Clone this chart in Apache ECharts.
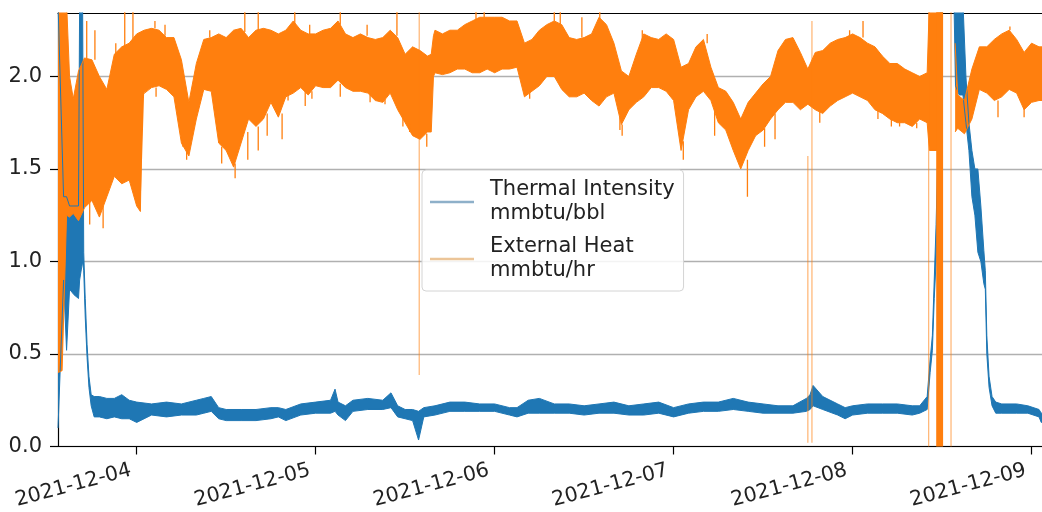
<!DOCTYPE html>
<html>
<head>
<meta charset="utf-8">
<script src="https://cdn.jsdelivr.net/npm/echarts@6/dist/echarts.min.js"></script>
<style>
  html, body { margin: 0; padding: 0; background: #ffffff; }
  #chart { width: 1042px; height: 512px; }
</style>
</head>
<body>
<div id="chart"></div>
<script>
// Hour offsets in the arrays below count from 2021-12-03 12:00 (local time).
const BASE = new Date(2021, 11, 3, 12, 0, 0).getTime();
const HOUR = 3600 * 1000;
const DAY = 24 * HOUR;

const NAME_INTENSITY = 'Thermal Intensity\nmmbtu/bbl';
const NAME_HEAT = 'External Heat\nmmbtu/hr';

// Visible time window (hours)
const viewStart = 1.45;
const viewEnd = 133.4;

// External heat: lower and upper edge of the noisy trace (null = no reading)
const heatHours = [
  1.45, 2.0, 2.6, 3.0, 3.5, 4.2, 5, 6, 7, 8, 9, 10, 11, 12, 12.5, 12.75,
  13, 14, 15, 16, 17, 18, 19, 20, 21, 22, 23, 24, 25, 26, 27, 28, 29, 30,
  31, 32, 33, 34, 35, 36, 37, 38, 39, 40, 41, 42, 43, 44, 45, 46, 47, 48,
  49, 50, 51, 51.5, 51.8, 52, 53, 54, 55, 56, 57, 58, 59, 60, 61, 62, 63,
  64, 65, 66, 67, 68, 69, 70, 71, 72, 73, 74, 75, 76, 77, 78, 79, 80, 81,
  82, 83, 84, 85, 86, 87, 88, 89, 90, 91, 92, 93, 94, 95, 96, 97, 98, 99,
  100, 101, 102, 103, 104, 105, 106, 107, 108, 109, 110, 111, 112, 113,
  114, 115, 116, 117, 118, 118.3, 120.1, 120.25, 121.75, 122.1, 123, 124,
  125, 126, 127, 128, 129, 130, 131, 132, 133, 134, 135.6
];
const heatLow = [
  0.40, 0.41, 1.25, 1.24, 1.26, 1.22, 1.29, 1.33, 1.24, 1.35, 1.46, 1.42, 1.44, 1.30, 1.27, 1.90,
  1.91, 1.94, 1.95, 1.93, 1.89, 1.64, 1.57, 1.77, 1.93, 1.92, 1.64, 1.60, 1.51, 1.64, 1.77, 1.73, 1.77, 1.86,
  1.78, 1.89, 1.91, 1.94, 1.90, 1.95, 1.94, 1.94, 1.98, 1.94, 1.92, 1.92, 1.91, 1.87, 1.86, 1.91, 1.82, 1.75,
  1.68, 1.66, 1.70, 1.70, 2.00, 2.02, 2.01, 2.02, 2.04, 2.04, 2.02, 2.02, 2.04, 2.02, 2.04, 2.04, 2.05,
  1.89, 1.92, 1.95, 2.00, 2.00, 1.93, 1.89, 1.89, 1.91, 1.87, 1.84, 1.89, 1.91, 1.74, 1.82, 1.86, 1.89, 1.94,
  1.94, 1.92, 1.87, 1.60, 1.82, 1.89, 1.92, 1.87, 1.75, 1.71, 1.60, 1.50, 1.60, 1.68, 1.71, 1.77, 1.82, 1.86,
  1.86, 1.82, 1.85, 1.82, 1.80, 1.84, 1.87, 1.89, 1.91, 1.89, 1.87, 1.82, 1.80, 1.77,
  1.75, 1.75, 1.73, 1.77, 1.75, 1.60, 1.60, null, 1.70, 1.72, 1.69, 1.77,
  1.93, 1.91, 1.87, 1.89, 1.93, 1.91, 1.82, 1.86, 1.87, 1.87, 1.87
];
const heatHigh = [
  2.40, 2.40, 2.40, 2.00, 1.88, 2.03, 2.10, 2.09, 2.00, 1.93, 2.12, 2.16, 2.18, 2.23, 2.24, 2.25,
  2.25, 2.26, 2.25, 2.21, 2.21, 2.09, 1.86, 2.07, 2.20, 2.21, 2.23, 2.21, 2.25, 2.26, 2.21, 2.25, 2.26, 2.25,
  2.23, 2.25, 2.30, 2.25, 2.23, 2.23, 2.25, 2.26, 2.30, 2.23, 2.21, 2.23, 2.21, 2.20, 2.21, 2.25, 2.21, 2.12,
  2.16, 2.14, 2.11, 2.12, 2.22, 2.25, 2.23, 2.25, 2.25, 2.28, 2.30, 2.32, 2.32, 2.32, 2.32, 2.30, 2.30,
  2.18, 2.20, 2.25, 2.28, 2.30, 2.28, 2.21, 2.20, 2.21, 2.23, 2.32, 2.28, 2.18, 2.03, 2.00, 2.12, 2.23, 2.21,
  2.20, 2.23, 2.20, 2.05, 2.07, 2.16, 2.20, 2.05, 1.94, 1.92, 1.86, 1.77, 1.86, 1.91, 1.96, 2.00, 2.14, 2.20,
  2.21, 2.13, 2.04, 2.13, 2.14, 2.18, 2.20, 2.21, 2.23, 2.21, 2.18, 2.16, 2.11, 2.07,
  2.07, 2.04, 2.02, 2.00, 2.02, 2.40, 2.40, null, 2.18, 1.90, 1.87, 2.04,
  2.16, 2.16, 2.20, 2.23, 2.25, 2.20, 2.13, 2.18, 2.16, 2.16, 2.16
];

// External heat: short excursions beyond the trace edges [hour, from, to]
const heatSpikes = [
  // upward
  [5.3, 2.10, 2.30], [6.4, 2.09, 2.25], [9.2, 2.12, 2.18], [10.4, 2.16, 2.40],
  [11.5, 2.18, 2.40], [14.45, 2.26, 2.30], [15.8, 2.22, 2.28], [21.8, 2.21, 2.25],
  [26.5, 2.24, 2.40], [28.3, 2.25, 2.40], [33.2, 2.28, 2.40], [35.2, 2.23, 2.28],
  [39.3, 2.28, 2.40], [42.9, 2.22, 2.28], [46.9, 2.22, 2.40], [57.5, 2.30, 2.40],
  [58.6, 2.32, 2.40], [68.0, 2.30, 2.40], [68.8, 2.28, 2.40], [71.7, 2.21, 2.32],
  [74.1, 2.30, 2.40], [79.8, 2.20, 2.25], [88.5, 2.18, 2.23], [107.6, 2.21, 2.25],
  [109.4, 2.21, 2.30], [129.1, 2.25, 2.27],
  // downward
  [5.7, 1.33, 1.20], [7.5, 1.30, 1.18], [12.7, 1.90, 1.82], [14.6, 1.94, 1.89],
  [18.2, 1.66, 1.62], [18.7, 1.60, 1.55], [23.4, 1.62, 1.53], [25.2, 1.53, 1.45],
  [26.9, 1.70, 1.55], [28.3, 1.73, 1.60], [29.5, 1.80, 1.68], [31.5, 1.80, 1.66],
  [32.3, 1.90, 1.87], [34.6, 1.92, 1.84], [35.5, 1.92, 1.88], [39.3, 1.96, 1.89],
  [43.3, 1.90, 1.86], [45.3, 1.88, 1.85], [47.7, 1.80, 1.73], [48.6, 1.74, 1.70],
  [50.9, 1.69, 1.62], [64.7, 1.92, 1.88], [76.8, 1.78, 1.71], [77.1, 1.74, 1.68],
  [85.3, 1.65, 1.55], [89.5, 1.82, 1.68], [93.9, 1.55, 1.35], [96.2, 1.72, 1.62],
  [97.6, 1.80, 1.66], [103.6, 1.81, 1.75], [111.4, 1.82, 1.77], [113.2, 1.77, 1.73],
  [114.3, 1.75, 1.73], [116.6, 1.75, 1.72], [127.5, 1.87, 1.78], [131.0, 1.84, 1.78],
  // full-range swings during the shutdown
  [119.3, 0.00, 2.40], [119.45, 0.00, 2.40], [119.6, 0.00, 2.40],
  [119.75, 0.00, 2.40], [119.9, 0.00, 2.40], [120.05, 0.00, 2.40]
];
// External heat: single-sample drops towards zero [hour, from, to]
const heatDrops = [
  [49.89, 0.386, 2.40], [102.0, 0.02, 1.57], [102.55, 0.02, 2.30],
  [118.2, 0.00, 2.40], [121.2, 0.00, 2.40]
];

// Thermal intensity: lower and upper edge of the trace
const intensityHours = [
  1.45, 2.2, 2.6, 3.0, 3.6, 4.2, 4.35, 4.75, 4.9, 5.1, 5.35, 5.6, 5.9, 6.3,
  7, 8, 9, 10, 11, 12, 14, 16, 18, 20, 21, 22, 23, 24, 26, 28, 30, 31, 32,
  34, 36, 38, 38.6, 39, 40, 41, 43, 45, 46.1, 47, 48, 49, 49.8, 50.5, 52,
  54, 56, 58, 60, 62, 63, 64.5, 66, 68, 70, 72, 74, 76, 78, 80, 82, 84, 86,
  88, 90, 92, 94, 96, 98, 100, 101.8, 102.3, 102.7, 104, 106, 107, 108, 110,
  112, 114, 116, 117, 118, 118.4, 118.7, 118.95, 119.2, 119.5, 119.8, 120.1,
  121.6, 121.8, 122.3, 122.8, 123.2, 123.6, 124.0, 124.4, 124.8, 125.2,
  125.6, 125.8, 126.0, 126.3, 126.7, 127.2, 128, 130, 131.5, 133, 133.3, 135.6
];
const intensityLow = [
  0.10, 0.90, 0.52, 0.85, 0.82, 0.80, 0.90, 1.00, 0.95, 0.70, 0.48, 0.32, 0.22, 0.16,
  0.16, 0.15, 0.16, 0.15, 0.15, 0.13, 0.17, 0.16, 0.17, 0.17, 0.18, 0.19, 0.15, 0.14, 0.14, 0.14, 0.15, 0.16, 0.14,
  0.17, 0.18, 0.18, 0.19, 0.17, 0.14, 0.19, 0.20, 0.20, 0.21, 0.16, 0.15, 0.14, 0.035, 0.16, 0.17,
  0.19, 0.19, 0.19, 0.19, 0.17, 0.16, 0.18, 0.18, 0.18, 0.18, 0.17, 0.18, 0.18, 0.17, 0.17, 0.18, 0.16, 0.18,
  0.19, 0.19, 0.20, 0.19, 0.18, 0.18, 0.18, 0.19, 0.20, 0.22, 0.20, 0.17, 0.15, 0.17, 0.18,
  0.18, 0.18, 0.17, 0.18, 0.20, 0.40, 0.52, 0.80, 1.00, 1.40, 2.00, 2.40,
  2.40, 1.95, 1.90, 1.90, 1.75, 1.60, 1.35, 1.25, 1.05, 1.00,
  0.88, 0.85, 0.50, 0.32, 0.22, 0.18, 0.18, 0.18, 0.18, 0.16, 0.13, 0.14
];
const intensityHigh = [
  2.40, 1.35, 1.35, 1.30, 1.30, 1.30, 2.40, 2.40, 1.05, 0.80, 0.55, 0.38, 0.28, 0.27,
  0.27, 0.26, 0.26, 0.28, 0.25, 0.24, 0.23, 0.24, 0.23, 0.25, 0.26, 0.27, 0.21, 0.20, 0.20, 0.20, 0.21, 0.21, 0.20,
  0.23, 0.24, 0.25, 0.31, 0.24, 0.22, 0.25, 0.26, 0.25, 0.29, 0.22, 0.20, 0.20, 0.19, 0.21, 0.22,
  0.24, 0.24, 0.23, 0.23, 0.21, 0.21, 0.25, 0.26, 0.23, 0.23, 0.22, 0.23, 0.24, 0.22, 0.23, 0.24, 0.21, 0.23,
  0.24, 0.24, 0.26, 0.24, 0.23, 0.22, 0.22, 0.26, 0.28, 0.33, 0.27, 0.23, 0.21, 0.22, 0.23,
  0.23, 0.23, 0.22, 0.22, 0.27, 0.47, 0.60, 0.90, 1.20, 1.70, 2.40, 2.40,
  2.40, 2.40, 2.40, 2.40, 2.00, 1.75, 1.60, 1.50, 1.50, 1.30,
  1.06, 0.95, 0.60, 0.38, 0.27, 0.24, 0.23, 0.23, 0.22, 0.20, 0.18, 0.18
];

// Axis ticks
const yTicks = [0.0, 0.5, 1.0, 1.5, 2.0];
const dayTicks = ['2021-12-04', '2021-12-05', '2021-12-06', '2021-12-07', '2021-12-08', '2021-12-09'];

const BLUE = '#1f77b4';
const ORANGE = '#ff7f0e';
const FONT = 'DejaVu Sans';

const toTime = h => BASE + h * HOUR;
const pad2 = n => String(n).padStart(2, '0');
const dayLabel = v => {
  const d = new Date(v);
  return d.getFullYear() + '-' + pad2(d.getMonth() + 1) + '-' + pad2(d.getDate());
};
const isMidnight = v => {
  const d = new Date(v);
  return d.getHours() === 0 && d.getMinutes() === 0 && d.getSeconds() === 0;
};

// A noisy trace drawn as a filled strip between its lower and upper edge
function traceStrip(name, hours, low, high, color) {
  const base = hours.map((h, i) => [toTime(h), low[i] == null ? '-' : low[i]]);
  const span = hours.map((h, i) => [toTime(h),
    low[i] == null ? '-' : +(high[i] - low[i]).toFixed(3)]);
  const common = {
    type: 'line', stack: name, symbol: 'none', showSymbol: false,
    connectNulls: false, silent: true, animation: false, clip: true
  };
  return [
    Object.assign({}, common, {
      name: name + ' low', data: base,
      lineStyle: { color: color, width: 1 }, itemStyle: { color: color }
    }),
    Object.assign({}, common, {
      name: name, data: span,
      lineStyle: { color: color, width: 1 }, itemStyle: { color: color },
      areaStyle: { color: color, opacity: 1 }
    })
  ];
}

// Vertical strokes for individual samples that leave the strip
function strokes(name, list, color, width, opacity) {
  const data = [];
  list.forEach(([h, a, b]) => {
    data.push([toTime(h), a], [toTime(h), b], [toTime(h), '-']);
  });
  return {
    name: name, type: 'line', data: data, symbol: 'none', showSymbol: false,
    connectNulls: false, silent: true, animation: false, clip: true,
    lineStyle: { color: color, width: width, opacity: opacity },
    itemStyle: { color: color }
  };
}

const series = [].concat(
  traceStrip(NAME_INTENSITY, intensityHours, intensityLow, intensityHigh, BLUE),
  traceStrip(NAME_HEAT, heatHours, heatLow, heatHigh, ORANGE),
  [strokes('heat spikes', heatSpikes, ORANGE, 1.3, 1),
   strokes('heat drops', heatDrops, ORANGE, 1.3, 0.55)]
);

const axisBlack = { color: '#000000', width: 1.2 };

const chart = echarts.init(document.getElementById('chart'), null, { renderer: 'canvas' });
chart.setOption({
  animation: false,
  backgroundColor: '#ffffff',
  grid: { left: 58, top: 13, right: 0, height: 433.5, show: false },
  legend: {
    data: [
      { name: NAME_INTENSITY, icon: 'rect', itemStyle: { color: '#8eb0c9' } },
      { name: NAME_HEAT, icon: 'rect', itemStyle: { color: '#ecc598' } }
    ],
    orient: 'vertical', left: 422, top: 170,
    itemWidth: 44, itemHeight: 2.5, itemGap: 9,
    padding: [8, 9, 8, 8],
    backgroundColor: 'rgba(255,255,255,0.85)',
    borderColor: '#d4d4d4', borderWidth: 1, borderRadius: 4,
    selectedMode: false,
    textStyle: {
      fontFamily: FONT, fontSize: 21, lineHeight: 24, color: '#222222',
      padding: [0, 0, 0, 11]
    }
  },
  xAxis: [
    {
      type: 'time',
      min: toTime(viewStart), max: toTime(viewEnd),
      minInterval: DAY, maxInterval: DAY,
      axisLine: { show: true, onZero: false, lineStyle: axisBlack },
      axisTick: { show: true, length: 8, lineStyle: axisBlack },
      axisLabel: {
        rotate: 15, margin: 22, padding: [0, 6, 0, 0],
        fontFamily: FONT, fontSize: 20.5, color: '#222222',
        formatter: v => {
          if (!isMidnight(v)) return '';
          const s = dayLabel(v);
          return dayTicks.indexOf(s) >= 0 ? s : '';
        }
      },
      splitLine: { show: false }
    },
    {
      // top frame line
      type: 'time', position: 'top',
      min: toTime(viewStart), max: toTime(viewEnd),
      axisLine: { show: true, onZero: false, lineStyle: axisBlack },
      axisTick: { show: false }, axisLabel: { show: false }, splitLine: { show: false }
    }
  ],
  yAxis: {
    type: 'value',
    min: 0, max: 2.343, interval: 0.5,
    axisLine: { show: true, lineStyle: axisBlack },
    axisTick: { show: true, length: 8, customValues: yTicks, lineStyle: axisBlack },
    axisLabel: {
      customValues: yTicks, margin: 16,
      fontFamily: FONT, fontSize: 21, color: '#222222',
      formatter: v => v.toFixed(1)
    },
    splitLine: { show: true, lineStyle: { color: '#b0b0b0', width: 1.4 } }
  },
  series: series
});
</script>
</body>
</html>
